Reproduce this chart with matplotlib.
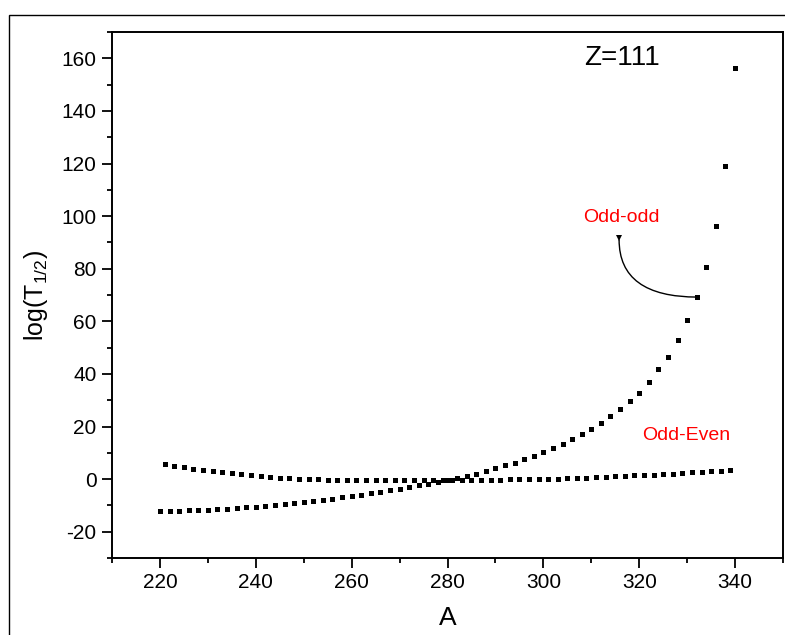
import numpy as np
from matplotlib import pyplot as plt
from matplotlib.patches import Rectangle
from matplotlib.ticker import MultipleLocator

plt.rcParams['font.family'] = ['Liberation Sans', 'DejaVu Sans']
plt.rcParams['mathtext.fontset'] = 'custom'
plt.rcParams['mathtext.rm'] = 'Liberation Sans'
plt.rcParams['mathtext.it'] = 'Liberation Sans:italic'
plt.rcParams['axes.unicode_minus'] = False

# odd-odd nuclei, A = 220, 222, ..., 340
A_oo = np.arange(220, 341, 2)
logT_oo = [-12.2, -12.1, -12.0, -11.9, -11.8, -11.6, -11.4, -11.2, -11.0, -10.7,
           -10.5, -10.1, -9.8, -9.5, -9.1, -8.7, -8.3, -7.9, -7.4, -6.9,
           -6.4, -5.9, -5.3, -4.8, -4.3, -3.7, -3.0, -2.4, -1.7, -1.0,
           -0.4, 0.3, 1.2, 2.1, 3.1, 4.2, 5.2, 6.3, 7.5, 8.8,
           10.3, 11.8, 13.4, 15.1, 17.1, 19.0, 21.3, 23.9, 26.5, 29.6,
           32.8, 36.8, 41.7, 46.6, 52.7, 60.4, 69.2, 80.6, 96.3, 119.2,
           156.4]

# odd-even nuclei, A = 221, 223, ..., 339
A_oe = np.arange(221, 340, 2)
logT_oe = [5.7, 5.0, 4.5, 4.0, 3.6, 3.0, 2.6, 2.3, 1.9, 1.5,
           1.1, 0.8, 0.6, 0.3, 0.2, 0.1, 0.0, -0.2, -0.3, -0.3,
           -0.4, -0.4, -0.4, -0.4, -0.4, -0.4, -0.3, -0.3, -0.3, -0.3,
           -0.3, -0.3, -0.3, -0.3, -0.2, -0.2, 0.0, 0.0, 0.0, 0.1,
           0.2, 0.2, 0.3, 0.5, 0.6, 0.8, 0.9, 1.1, 1.3, 1.5,
           1.6, 1.7, 2.0, 2.1, 2.4, 2.6, 2.8, 3.0, 3.2, 3.5]

fig = plt.figure(figsize=(7.85, 6.35), dpi=100)
# outer frame
fig.patches.append(Rectangle((9 / 785, -0.2), 1.2, 1.2 - 15 / 635,
                             transform=fig.transFigure, fill=False,
                             edgecolor='black', linewidth=1.0))
ax = fig.add_axes([112 / 785, 1 - 558 / 635, 671 / 785, 526 / 635])

ax.plot(A_oo, logT_oo, 's', color='black', markersize=3.6, markeredgewidth=0)
ax.plot(A_oe, logT_oe, 's', color='black', markersize=3.6, markeredgewidth=0)

ax.set_xlim(210, 350)
ax.set_ylim(-30, 170)
ax.xaxis.set_major_locator(MultipleLocator(20))
ax.xaxis.set_minor_locator(MultipleLocator(10))
ax.yaxis.set_major_locator(MultipleLocator(20))
ax.yaxis.set_minor_locator(MultipleLocator(10))
ax.tick_params(which='major', direction='out', length=7, width=1.3,
               labelsize=15, pad=4)
ax.tick_params(which='minor', direction='out', length=3.5, width=1.3)
for s in ax.spines.values():
    s.set_linewidth(1.4)

ax.set_xlabel('A', fontsize=19, labelpad=10)
ax.set_ylabel(r'log(T$_{1/2}$)', fontsize=18, labelpad=8)

ax.text(308.5, 160, 'Z=111', fontsize=20, va='center', ha='left')
ax.text(308.2, 99.3, 'Odd-odd', fontsize=14, color='red', va='center', ha='left')
ax.text(320.6, 16.5, 'Odd-Even', fontsize=14, color='red', va='center', ha='left')

# curved pointer from the A=332 point up to the label
ax.annotate('', xy=(315.8, 91.0), xytext=(332.2, 69.2),
            arrowprops=dict(arrowstyle='-', color='black', lw=1.0,
                            shrinkA=0, shrinkB=0,
                            connectionstyle='angle3,angleA=0,angleB=90'))
ax.plot([315.8], [91.5], 'v', color='black', markersize=4.5, markeredgewidth=0)

fig.savefig('out.png', dpi=100)
